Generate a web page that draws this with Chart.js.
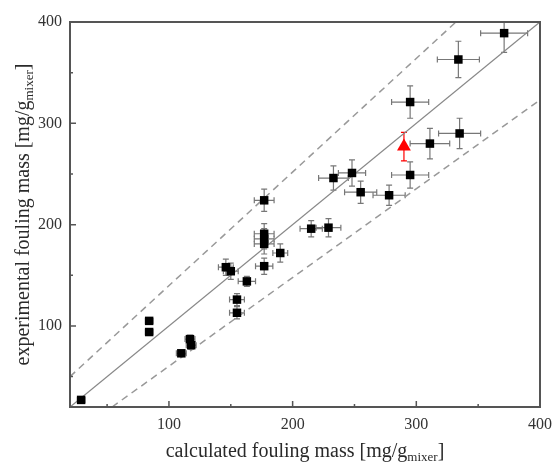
<!DOCTYPE html>
<html>
<head>
<meta charset="utf-8">
<script src="https://cdn.jsdelivr.net/npm/chart.js@4/dist/chart.umd.min.js"></script>
<style>
  html, body { margin: 0; padding: 0; background: #fff; }
</style>
</head>
<body>
<canvas id="fouling-chart" width="560" height="463"></canvas>
<script>
// black squares: calculated vs experimental fouling mass, with error bars
const calcMass = [29, 84, 84, 110, 117, 118, 146, 150, 155, 155, 163, 177, 177, 177, 177, 177, 190, 215, 229, 233, 248, 255, 278, 295, 295, 311, 335, 334, 371];
const expMass  = [27, 105, 94, 73, 87, 81, 158, 154, 126, 113, 144, 224, 191, 186, 181, 159, 172, 196, 197, 246, 251, 232, 229, 249, 321, 280, 290, 363, 389];
const calcErr  = [3, 3, 3, 4, 4, 4, 6, 6, 6, 6, 7, 8, 8, 8, 8, 7, 6, 9, 10, 12, 11, 13, 13, 15, 15, 16, 17, 17, 19];
const expErr   = [3, 3, 3, 3, 4, 4, 8, 8, 6, 6, 5, 11, 10, 10, 10, 8, 9, 8, 9, 12, 13, 11, 10, 13, 16, 15, 15, 18, 19];

// red triangle
const redCalc = [290];
const redExp = [277];
const redCalcErr = [0];
const redExpErr = [14];

// parity line and deviation band
const parityX = [20, 400];
const parityY = [20, 400];
const upperX = [20, 332];
const upperY = [50, 400];
const lowerX = [54, 400];
const lowerY = [20, 323];

const xTicks = [100, 200, 300, 400];
const yTicks = [100, 200, 300, 400];
const minorTicks = [50, 150, 250, 350];

const toPoints = (xs, ys) => xs.map((x, i) => ({ x, y: ys[i] }));

const errorBars = {
    id: 'errorBars',
    beforeDatasetsDraw(chart) {
        const { ctx, chartArea: a, scales: { x, y } } = chart;
        ctx.save();
        ctx.beginPath();
        ctx.rect(a.left, a.top, a.right - a.left, a.bottom - a.top);
        ctx.clip();
        chart.data.datasets.forEach((ds) => {
            if (!ds.xErr) return;
            ctx.strokeStyle = ds.errColor;
            ctx.lineWidth = 1.2;
            ds.data.forEach((p, i) => {
                const px = x.getPixelForValue(p.x);
                const py = y.getPixelForValue(p.y);
                const ex = ds.xErr[i];
                const ey = ds.yErr[i];
                ctx.beginPath();
                if (ex) {
                    const l = x.getPixelForValue(p.x - ex);
                    const r = x.getPixelForValue(p.x + ex);
                    ctx.moveTo(l, py); ctx.lineTo(r, py);
                    ctx.moveTo(l, py - 3); ctx.lineTo(l, py + 3);
                    ctx.moveTo(r, py - 3); ctx.lineTo(r, py + 3);
                }
                if (ey) {
                    const t = y.getPixelForValue(p.y + ey);
                    const b = y.getPixelForValue(p.y - ey);
                    ctx.moveTo(px, t); ctx.lineTo(px, b);
                    ctx.moveTo(px - 3, t); ctx.lineTo(px + 3, t);
                    ctx.moveTo(px - 3, b); ctx.lineTo(px + 3, b);
                }
                ctx.stroke();
            });
        });
        ctx.restore();
    }
};

const frameAndTitles = {
    id: 'frameAndTitles',
    afterDraw(chart) {
        const { ctx, chartArea: a, scales: { x, y } } = chart;
        ctx.save();
        ctx.strokeStyle = '#555';
        ctx.lineWidth = 2;
        ctx.strokeRect(a.left, a.top, a.right - a.left, a.bottom - a.top);

        // inward ticks
        ctx.lineWidth = 1.5;
        ctx.beginPath();
        xTicks.forEach((v) => {
            const px = x.getPixelForValue(v);
            ctx.moveTo(px, a.bottom); ctx.lineTo(px, a.bottom - 6);
        });
        minorTicks.forEach((v) => {
            const px = x.getPixelForValue(v);
            ctx.moveTo(px, a.bottom); ctx.lineTo(px, a.bottom - 3);
        });
        yTicks.forEach((v) => {
            const py = y.getPixelForValue(v);
            ctx.moveTo(a.left, py); ctx.lineTo(a.left + 6, py);
        });
        minorTicks.forEach((v) => {
            const py = y.getPixelForValue(v);
            ctx.moveTo(a.left, py); ctx.lineTo(a.left + 3, py);
        });
        ctx.stroke();

        // axis titles with subscript
        const drawTitle = (cx, cy, main) => {
            const big = '20px "Liberation Serif"';
            const small = '13px "Liberation Serif"';
            ctx.font = big;
            const w1 = ctx.measureText(main).width;
            const w3 = ctx.measureText(']').width;
            ctx.font = small;
            const w2 = ctx.measureText('mixer').width;
            let sx = cx - (w1 + w2 + w3) / 2;
            ctx.textBaseline = 'alphabetic';
            ctx.textAlign = 'left';
            ctx.fillStyle = '#2a2a2a';
            ctx.font = big;
            ctx.fillText(main, sx, cy);
            ctx.font = small;
            ctx.fillText('mixer', sx + w1, cy + 4);
            ctx.font = big;
            ctx.fillText(']', sx + w1 + w2, cy);
        };
        drawTitle((a.left + a.right) / 2, 457, 'calculated fouling mass [mg/g');
        ctx.save();
        ctx.translate(29, (a.top + a.bottom) / 2);
        ctx.rotate(-Math.PI / 2);
        drawTitle(0, 0, 'experimental fouling mass [mg/g');
        ctx.restore();
        ctx.restore();
    }
};

const tickFont = { family: 'Liberation Serif', size: 16 };

new Chart(document.getElementById('fouling-chart').getContext('2d'), {
    type: 'scatter',
    data: {
        datasets: [
            {
                data: toPoints(calcMass, expMass),
                xErr: calcErr,
                yErr: expErr,
                errColor: '#777',
                pointStyle: 'rect',
                pointRadius: 6,
                backgroundColor: '#000',
                borderWidth: 0
            },
            {
                data: toPoints(redCalc, redExp),
                xErr: redCalcErr,
                yErr: redExpErr,
                errColor: '#f00',
                pointStyle: 'triangle',
                pointRadius: 8,
                backgroundColor: '#f00',
                borderWidth: 0
            },
            {
                data: toPoints(parityX, parityY),
                showLine: true,
                pointRadius: 0,
                borderColor: '#888',
                borderWidth: 1.3
            },
            {
                data: toPoints(upperX, upperY),
                showLine: true,
                pointRadius: 0,
                borderColor: '#999',
                borderWidth: 1.5,
                borderDash: [7, 5]
            },
            {
                data: toPoints(lowerX, lowerY),
                showLine: true,
                pointRadius: 0,
                borderColor: '#999',
                borderWidth: 1.5,
                borderDash: [7, 5]
            }
        ]
    },
    options: {
        responsive: false,
        animation: false,
        layout: { padding: { top: 22, right: 13, left: 0, bottom: 0 }, autoPadding: false },
        plugins: { legend: { display: false }, tooltip: { enabled: false } },
        scales: {
            x: {
                type: 'linear',
                min: 20,
                max: 400,
                afterBuildTicks: (scale) => { scale.ticks = xTicks.map((value) => ({ value })); },
                afterFit: (scale) => { scale.height = 56; },
                grid: { display: false, drawTicks: false },
                border: { display: false },
                ticks: { font: tickFont, color: '#333', padding: 8, maxRotation: 0 }
            },
            y: {
                type: 'linear',
                min: 20,
                max: 400,
                afterBuildTicks: (scale) => { scale.ticks = yTicks.map((value) => ({ value })); },
                afterFit: (scale) => { scale.width = 70; },
                grid: { display: false, drawTicks: false },
                border: { display: false },
                ticks: { font: tickFont, color: '#333', padding: 8 }
            }
        }
    },
    plugins: [errorBars, frameAndTitles]
});
</script>
</body>
</html>
